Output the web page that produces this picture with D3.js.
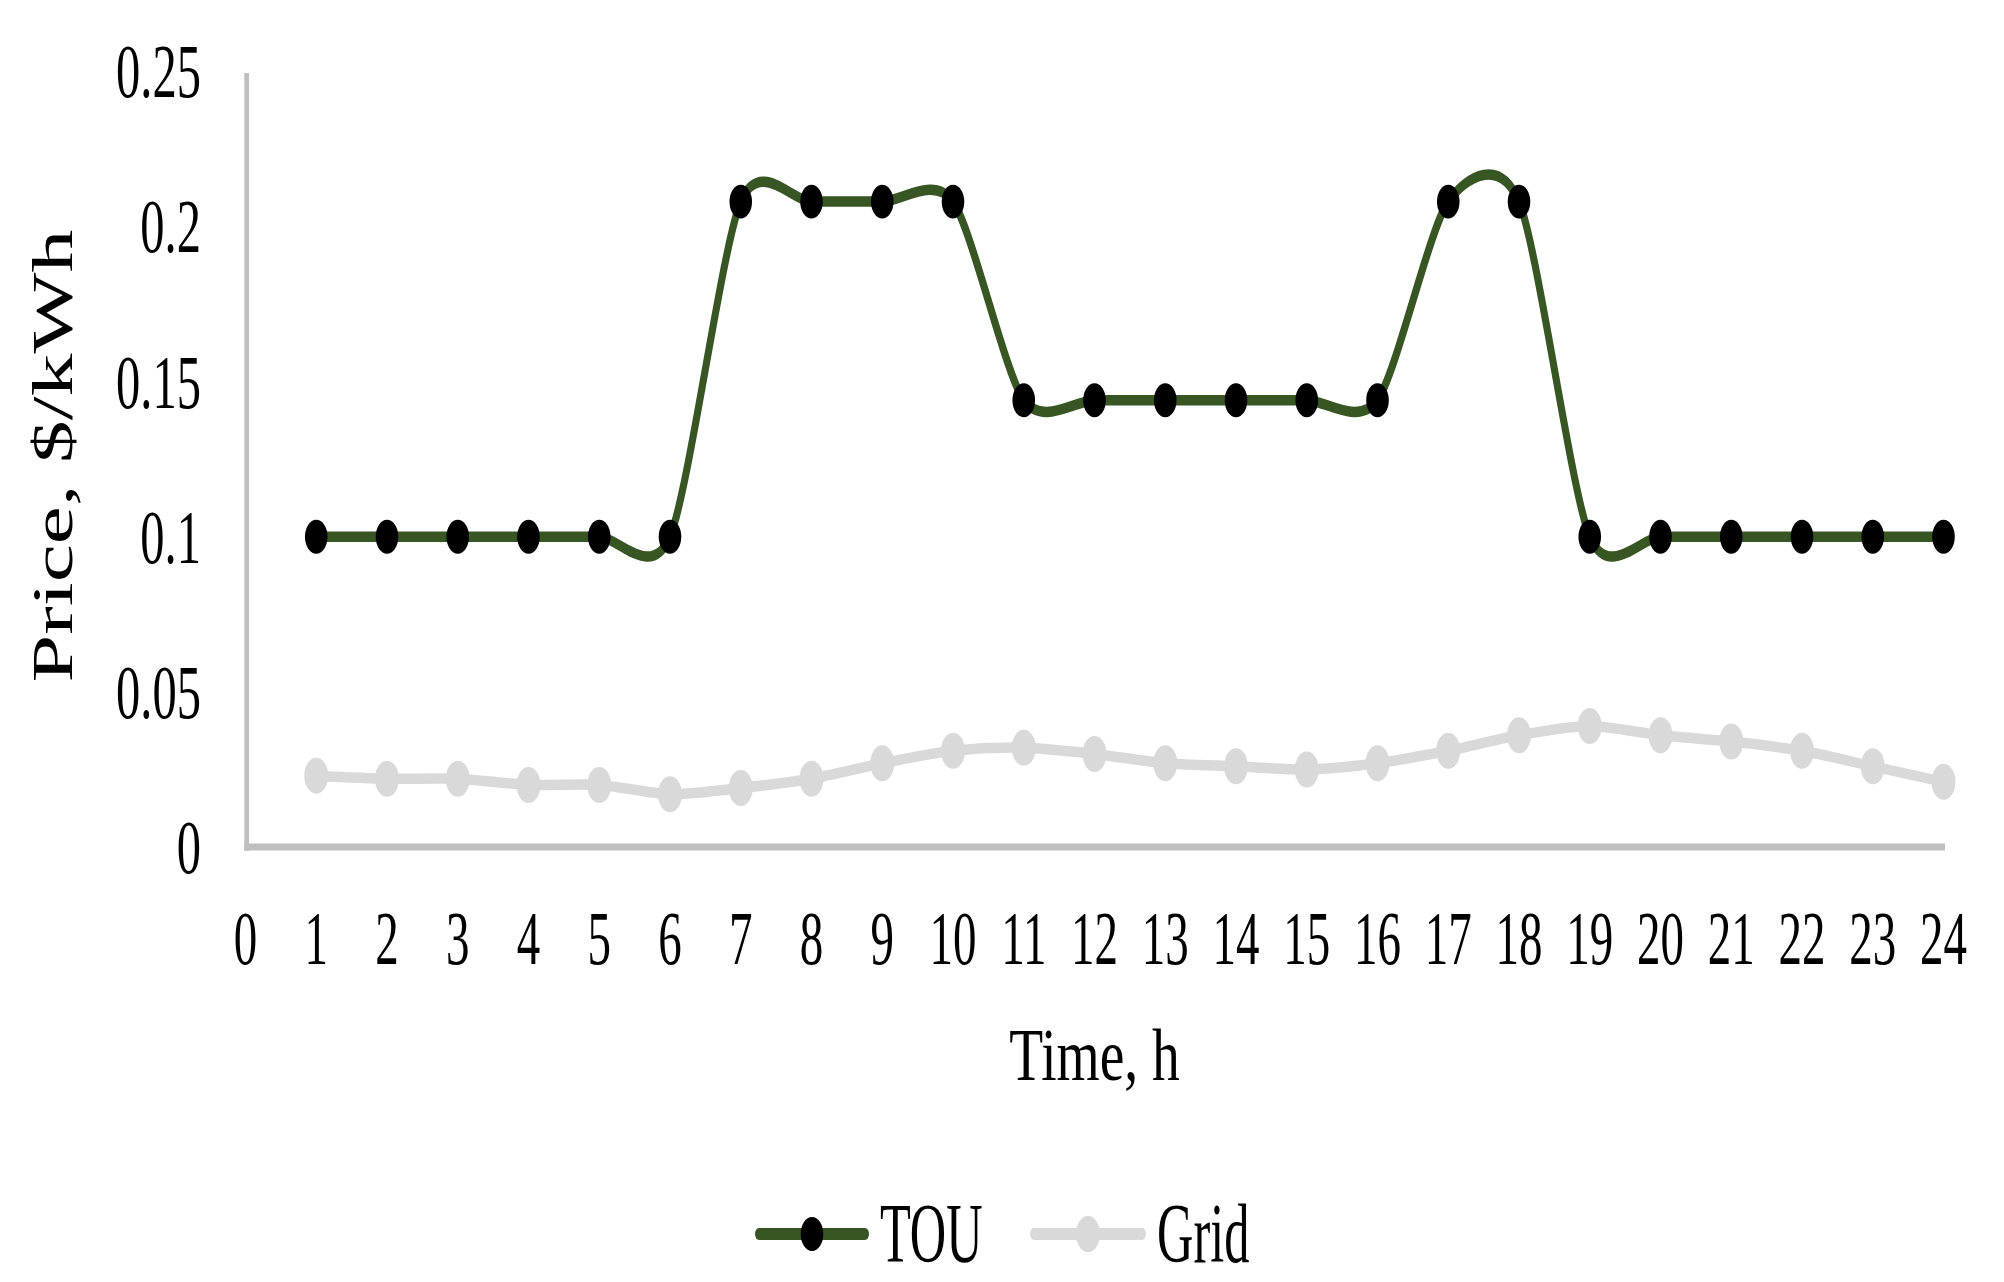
<!DOCTYPE html>
<html>
<head>
<meta charset="utf-8">
<script src="https://cdn.jsdelivr.net/npm/d3@7"></script>
<style>
  html, body { margin: 0; padding: 0; background: #ffffff; }
  svg { display: block; }
  text { font-family: "Liberation Serif", "Times New Roman", serif; fill: #000000; }
</style>
</head>
<body>
<svg id="chart" width="2004" height="1282"></svg>
<script>
// ---- data ----
const hours = [1,2,3,4,5,6,7,8,9,10,11,12,13,14,15,16,17,18,19,20,21,22,23,24];
const touPrice = [0.1,0.1,0.1,0.1,0.1,0.1,0.208,0.208,0.208,0.208,0.144,0.144,0.144,0.144,0.144,0.144,0.208,0.208,0.1,0.1,0.1,0.1,0.1,0.1];
const gridPrice = [0.023,0.022,0.022,0.020,0.020,0.017,0.019,0.022,0.027,0.031,0.032,0.030,0.027,0.026,0.025,0.027,0.031,0.036,0.039,0.036,0.034,0.031,0.026,0.021];
const xTicks = [0,1,2,3,4,5,6,7,8,9,10,11,12,13,14,15,16,17,18,19,20,21,22,23,24];
const yTicks = [0,0.05,0.1,0.15,0.2,0.25];
const yTickLabels = ["0","0.05","0.1","0.15","0.2","0.25"];
const seriesNames = ["TOU","Grid"];
const xTitle = "Time, h";
const yTitle = "Price, $/kWh";

// ---- layout ----
const SY = 1.5; // vertical stretch of the plotted marks
const svg = d3.select("#chart");
const x = d3.scaleLinear().domain([0, 24]).range([245.5, 1943.5]);
const y = d3.scaleLinear().domain([0, 0.25]).range([847, 71.3]);
const ys = v => y(v) / SY;

const colors = { TOU: "#375623", Grid: "#d9d9d9" };
const markerFill = { TOU: "#000000", Grid: "#d9d9d9" };
const markerR = { TOU: 11.3, Grid: 12 };

const plot = svg.append("g").attr("transform", `scale(1,${SY})`);

// axes lines
plot.append("line")
  .attr("x1", x(0) + 1.2).attr("x2", x(0) + 1.2)
  .attr("y1", 73 / SY).attr("y2", 850.7 / SY)
  .attr("stroke", "#bfbfbf").attr("stroke-width", 4.8);
plot.append("line")
  .attr("x1", x(0) - 1.2).attr("x2", x(24) + 1.5)
  .attr("y1", y(0) / SY).attr("y2", y(0) / SY)
  .attr("stroke", "#bfbfbf").attr("stroke-width", 4.8);

const series = [
  { name: "TOU", values: touPrice },
  { name: "Grid", values: gridPrice }
];

const line = d3.line()
  .x(d => x(d.h))
  .y(d => ys(d.v))
  .curve(d3.curveCardinal.tension(0.2));

series.forEach(s => {
  const pts = hours.map((h, i) => ({ h: h, v: s.values[i] }));
  plot.append("path")
    .datum(pts)
    .attr("d", line)
    .attr("fill", "none")
    .attr("stroke", colors[s.name])
    .attr("stroke-width", 7)
    .attr("stroke-linejoin", "round")
    .attr("stroke-linecap", "round");
  plot.selectAll(null)
    .data(pts)
    .enter().append("circle")
    .attr("cx", d => x(d.h))
    .attr("cy", d => ys(d.v))
    .attr("r", markerR[s.name])
    .attr("fill", markerFill[s.name]);
});

// y tick labels
svg.append("g").selectAll("text")
  .data(yTicks)
  .enter().append("text")
  .attr("transform", d => `translate(201,${y(d) + 26}) scale(0.63,1)`)
  .attr("text-anchor", "end")
  .attr("font-size", 77)
  .text((d, i) => yTickLabels[i]);

// x tick labels
svg.append("g").selectAll("text")
  .data(xTicks)
  .enter().append("text")
  .attr("transform", d => `translate(${x(d)},964) scale(0.61,1)`)
  .attr("text-anchor", "middle")
  .attr("font-size", 77)
  .text(d => String(d));

// axis titles
svg.append("text")
  .attr("transform", `translate(${(x(0) + x(24)) / 2},1080) scale(0.75,1)`)
  .attr("text-anchor", "middle")
  .attr("font-size", 74)
  .text(xTitle);

svg.append("text")
  .attr("transform", "translate(71.5,456) rotate(-90) scale(1.48,1)")
  .attr("text-anchor", "middle")
  .attr("font-size", 58)
  .text(yTitle);

// legend
const legendY = 1234;
const legendItems = [
  { name: "TOU", x0: 754, x1: 870, tx: 880 },
  { name: "Grid", x0: 1029, x1: 1147, tx: 1157 }
];
const leg = svg.append("g");
const legPlot = leg.append("g").attr("transform", `scale(1,${SY})`);
legendItems.forEach(it => {
  legPlot.append("line")
    .attr("x1", it.x0 + 5).attr("x2", it.x1 - 5)
    .attr("y1", legendY / SY).attr("y2", legendY / SY)
    .attr("stroke", colors[it.name])
    .attr("stroke-width", 8)
    .attr("stroke-linecap", "round");
  legPlot.append("circle")
    .attr("cx", (it.x0 + it.x1) / 2)
    .attr("cy", legendY / SY)
    .attr("r", markerR[it.name])
    .attr("fill", markerFill[it.name]);
  leg.append("text")
    .attr("transform", `translate(${it.tx},${legendY + 28}) scale(0.6,1)`)
    .attr("font-size", 84)
    .text(it.name);
});
</script>
</body>
</html>
